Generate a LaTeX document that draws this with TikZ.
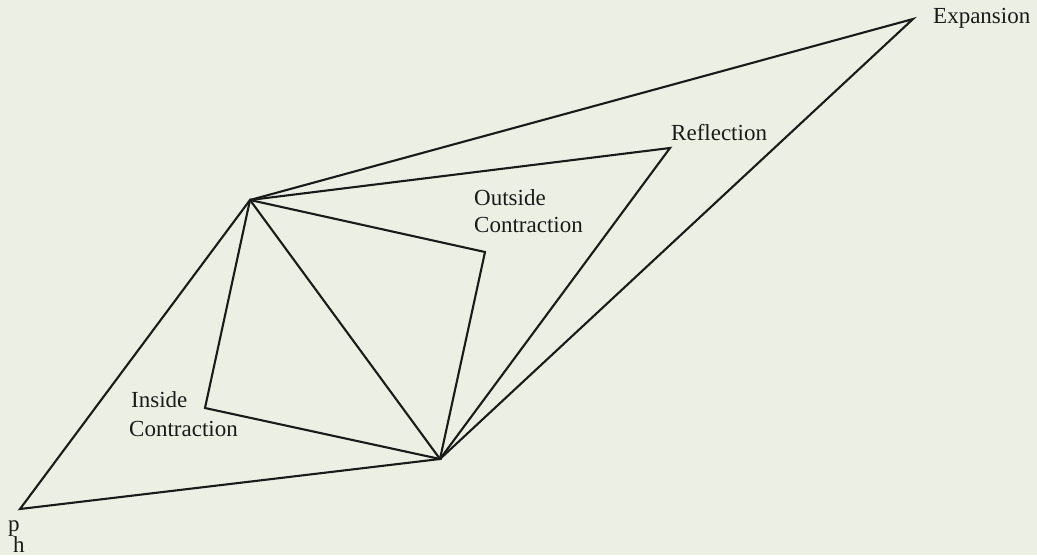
\documentclass[tikz,border=0pt]{standalone}
\usepackage{fontspec}
\setmainfont{Liberation Serif}
\definecolor{paper}{RGB}{236,240,228}
\definecolor{ink}{RGB}{25,27,25}
\begin{document}
\begin{tikzpicture}[x=1pt,y=-1pt,
  edge/.style={draw=ink,line width=2.1pt,line join=miter},
  lbl/.style={inner sep=0pt,text=ink,font=\fontsize{23}{27}\selectfont,align=left}]
\useasboundingbox[fill=paper] (0,0) rectangle (1037,555);
\coordinate (ph) at (20,509);
\coordinate (A) at (250,200);
\coordinate (B) at (440,459);
\coordinate (E) at (913,19);
\coordinate (R) at (670,148);
\coordinate (OC) at (485,252);
\coordinate (IC) at (205,408);
\draw[edge] (ph) -- (A) -- (B) -- cycle;
\draw[edge] (A) -- (E) -- (B);
\draw[edge] (A) -- (R) -- (B);
\draw[edge] (A) -- (OC) -- (B);
\draw[edge] (A) -- (IC) -- (B);
\node[lbl,anchor=base west] (tE) at (933,23) {Expansion};
\node[lbl,anchor=base west] (tR) at (671,140) {Reflection};
\node[lbl,anchor=base west] (tO1) at (474,205) {Outside};
\node[lbl,anchor=base west] (tO2) at (474,232) {Contraction};
\node[lbl,anchor=base west] (tI1) at (131,407) {Inside};
\node[lbl,anchor=base west] (tI2) at (129,436) {Contraction};
\node[lbl,anchor=base west] (tp) at (8,531) {p};
\node[lbl,anchor=base west] (th) at (13,552) {h};
\end{tikzpicture}
\end{document}
